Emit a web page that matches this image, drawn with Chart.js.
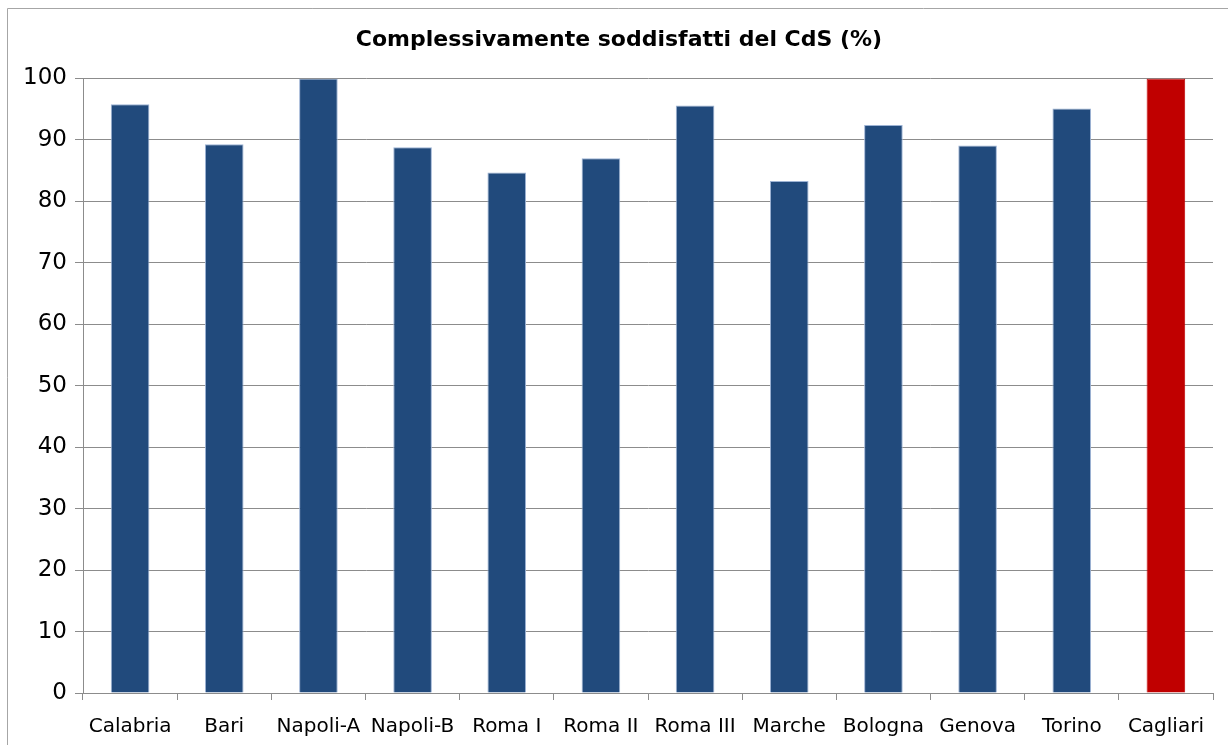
<!DOCTYPE html>
<html>
<head>
<meta charset="utf-8">
<script src="https://cdn.jsdelivr.net/npm/chart.js@4"></script>
<style>
    html, body { margin: 0; padding: 0; background: #ffffff; }
    #wrap { width: 1228px; height: 745px; position: relative; }
</style>
</head>
<body>
<div id="wrap"><canvas id="mainChart" width="1228" height="745"></canvas></div>
<script>
// Data
const categories = ['Calabria', 'Bari', 'Napoli-A', 'Napoli-B', 'Roma I', 'Roma II',
    'Roma III', 'Marche', 'Bologna', 'Genova', 'Torino', 'Cagliari'];
const satisfied = [95.8, 89.3, 100, 88.8, 84.7, 87.0, 95.6, 83.3, 92.4, 89.1, 95.1, 100];
const highlighted = ['Cagliari'];
const yTicks = [0, 10, 20, 30, 40, 50, 60, 70, 80, 90, 100];

const BLUE = '#214A7C';
const RED = '#C00000';
const GRID = '#8C8C8C';

// outer frame of the chart (only left and top edges are visible)
const framePlugin = {
    id: 'frame',
    beforeDraw(chart) {
        const ctx = chart.ctx;
        ctx.save();
        ctx.fillStyle = '#ffffff';
        ctx.fillRect(0, 0, chart.width, chart.height);
        ctx.strokeStyle = '#A6A6A6';
        ctx.lineWidth = 1;
        ctx.beginPath();
        ctx.moveTo(7.5, chart.height + 5);
        ctx.lineTo(7.5, 8.5);
        ctx.lineTo(chart.width + 5, 8.5);
        ctx.stroke();
        ctx.restore();
    }
};

const ctx = document.getElementById('mainChart');
new Chart(ctx, {
    type: 'bar',
    data: {
        labels: categories,
        datasets: [{
            data: satisfied,
            backgroundColor: categories.map(c => highlighted.includes(c) ? RED : BLUE),
            borderColor: categories.map(c => highlighted.includes(c) ? RED : '#9DB3D4'),
            borderWidth: { top: 1, left: 1, right: 1, bottom: 0 },
            categoryPercentage: 1,
            barPercentage: 0.41
        }]
    },
    plugins: [framePlugin],
    options: {
        responsive: false,
        animation: false,
        devicePixelRatio: 1,
        layout: { padding: { left: 25, right: 15, top: 0, bottom: 0 } },
        plugins: {
            legend: { display: false },
            tooltip: { enabled: false },
            title: {
                display: true,
                text: 'Complessivamente soddisfatti del CdS (%)',
                color: '#000000',
                font: { family: 'DejaVu Sans', size: 22, weight: 'bold', lineHeight: 1.2 },
                padding: { top: 27, bottom: 25 }
            }
        },
        scales: {
            x: {
                grid: {
                    display: true,
                    drawOnChartArea: false,
                    drawTicks: true,
                    tickLength: 7,
                    color: GRID,
                    offset: true
                },
                border: { display: true, color: GRID, width: 1 },
                ticks: {
                    color: '#000000',
                    padding: 15,
                    maxRotation: 0,
                    autoSkip: false,
                    font: { family: 'DejaVu Sans', size: 20 }
                },
                afterFit(scale) { scale.height = 52; }
            },
            y: {
                min: 0,
                max: 100,
                afterBuildTicks(scale) { scale.ticks = yTicks.map(v => ({ value: v })); },
                grid: {
                    color: GRID,
                    lineWidth: 1,
                    drawTicks: true,
                    tickLength: 8
                },
                border: { display: true, color: GRID, width: 1 },
                ticks: {
                    color: '#000000',
                    padding: 8,
                    font: { family: 'DejaVu Sans', size: 23 }
                },
                afterFit(scale) { scale.width = 58; }
            }
        }
    }
});
</script>
</body>
</html>
